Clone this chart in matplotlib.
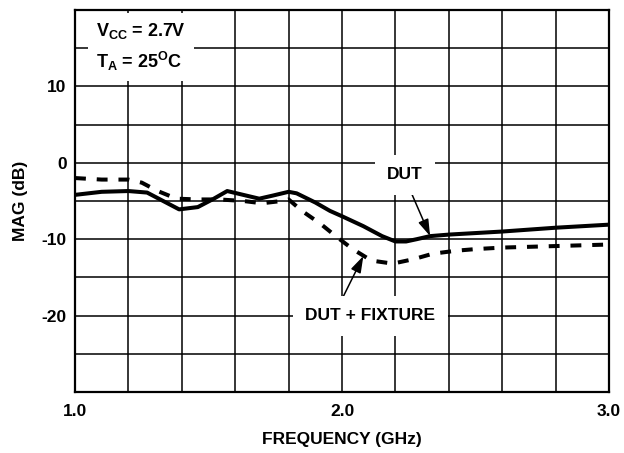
import matplotlib
matplotlib.use("Agg")
import matplotlib.pyplot as plt

plt.rcParams['font.family'] = ['Liberation Sans', 'DejaVu Sans']
plt.rcParams['mathtext.fontset'] = 'custom'
plt.rcParams['mathtext.rm'] = 'Liberation Sans:bold'
plt.rcParams['mathtext.bf'] = 'Liberation Sans:bold'

# DUT (solid)
dut_freq = [1.0, 1.1, 1.2, 1.27, 1.33, 1.39, 1.46, 1.52, 1.57, 1.63, 1.69, 1.74, 1.8, 1.83,
            1.9, 1.955, 2.0, 2.08, 2.15, 2.2, 2.24, 2.28, 2.33, 2.4, 2.5, 2.6, 2.8, 3.0]
dut_mag = [-4.2, -3.8, -3.7, -3.9, -5.0, -6.1, -5.8, -4.7, -3.7, -4.2, -4.7, -4.3, -3.8, -4.0,
           -5.2, -6.3, -7.0, -8.3, -9.6, -10.3, -10.3, -10.0, -9.6, -9.4, -9.2, -9.0, -8.5, -8.1]

# DUT + FIXTURE (dashed)
fix_freq = [1.0, 1.1, 1.2, 1.25, 1.31, 1.38, 1.46, 1.54, 1.63, 1.7, 1.775, 1.8, 1.85, 1.92, 1.98,
            2.04, 2.11, 2.19, 2.27, 2.34, 2.43, 2.5, 2.6, 2.7, 2.8, 2.9, 3.0]
fix_mag = [-2.0, -2.2, -2.2, -2.6, -3.7, -4.7, -4.8, -4.8, -5.0, -5.3, -5.0, -4.8, -6.3, -8.0, -9.7,
           -11.3, -12.8, -13.2, -12.6, -11.9, -11.5, -11.3, -11.1, -11.0, -10.9, -10.8, -10.7]

yticks = [10, 0, -10, -20]
xticks = [1.0, 2.0, 3.0]

fig = plt.figure(figsize=(6.24, 4.53), dpi=100)
ax = fig.add_axes([0.1202, 0.1347, 0.8558, 0.8433])

ax.set_xlim(1.0, 3.0)
ax.set_ylim(-30, 20)
ax.set_xticks([1.0 + 0.2 * i for i in range(11)])
ax.set_yticks([-30 + 5 * i for i in range(11)])
ax.grid(True, color='black', linewidth=1.1)
ax.set_xticklabels([f'{t:.1f}' if any(abs(t - v) < 1e-6 for v in xticks) else ''
                    for t in ax.get_xticks()], fontsize=12.5, fontweight='bold')
ax.set_yticklabels([str(int(round(t))) if int(round(t)) in yticks else ''
                    for t in ax.get_yticks()], fontsize=12.5, fontweight='bold')
ax.tick_params(axis='x', length=0, pad=9)
ax.tick_params(axis='y', length=0, pad=6)
for s in ax.spines.values():
    s.set_linewidth(1.6)

ax.plot(dut_freq, dut_mag, color='black', linewidth=2.9, solid_joinstyle='round',
        solid_capstyle='butt', zorder=4)
ax.plot(fix_freq, fix_mag, color='black', linewidth=2.9, dashes=(2.7, 2.7), zorder=4)

ax.set_xlabel('FREQUENCY (GHz)', fontsize=12.5, fontweight='bold', labelpad=9)
ax.set_ylabel('MAG (dB)', fontsize=12.5, fontweight='bold', labelpad=10)

# condition box
ax.text(1.08, 18.5, '$\\mathregular{V_{CC}}$ = 2.7V\n$\\mathregular{T_A}$ = 25$\\mathregular{^O}$C',
        fontsize=13, fontweight='bold', va='top', ha='left', linespacing=1.45,
        bbox=dict(facecolor='white', edgecolor='none', pad=6), zorder=5)

# annotations
arrow_style = '-|>,head_length=0.72,head_width=0.23'
ax.annotate('DUT', xy=(2.33, -9.6), xytext=(2.236, -1.6), fontsize=12.5, fontweight='bold',
            ha='center', va='center',
            bbox=dict(facecolor='white', edgecolor='none', pad=9),
            arrowprops=dict(arrowstyle=arrow_style, color='black', lw=1.1, mutation_scale=14,
                            patchA=None, relpos=(0.55, 0.0), shrinkA=4, shrinkB=0), zorder=6)
ax.annotate('DUT + FIXTURE', xy=(2.08, -12.2), xytext=(2.105, -20.0), fontsize=12.5,
            fontweight='bold', ha='center', va='center',
            bbox=dict(facecolor='white', edgecolor='none', pad=9),
            arrowprops=dict(arrowstyle=arrow_style, color='black', lw=1.1, mutation_scale=14,
                            patchA=None, relpos=(0.25, 1.0), shrinkA=2, shrinkB=0), zorder=6)

fig.savefig('out.png', dpi=100)
